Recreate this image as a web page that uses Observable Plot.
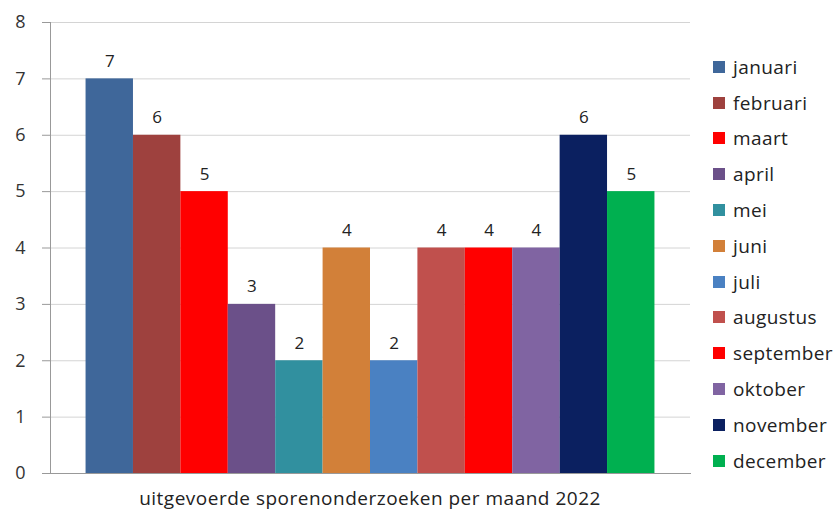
<!DOCTYPE html>
<html>
<head>
<meta charset="utf-8">
<script src="https://cdn.jsdelivr.net/npm/d3@7"></script>
<script src="https://cdn.jsdelivr.net/npm/@observablehq/plot@0.6"></script>
<style>
  html, body { margin: 0; padding: 0; background: #fff; }
  #wrap { position: relative; width: 838px; height: 514px; font-family: "Open Sans", sans-serif; }
  #chart { position: absolute; left: 0; top: 0; }
  #caption { position: absolute; left: 50px; width: 640px; top: 486px; line-height: 24px; text-align: center; font-size: 19px; letter-spacing: 0.5px; color: #222; }
  #legend { position: absolute; left: 713px; top: 49px; font-size: 19px; letter-spacing: 0.4px; color: #222; }
  #legend .item { display: flex; align-items: center; height: 35.8px; }
  #legend .sw { width: 12px; height: 12px; margin-right: 8px; }
</style>
</head>
<body>
<div id="wrap">
  <div id="chart"></div>
  <div id="legend"></div>
  <div id="caption"></div>
</div>
<script>
const months = ["januari","februari","maart","april","mei","juni","juli","augustus","september","oktober","november","december"];
const counts = [7, 6, 5, 3, 2, 4, 2, 4, 4, 4, 6, 5];
const colors = ["#3f679a","#9e413e","#ff0000","#6b5089","#31909f","#d28039","#4a81c2","#c0504d","#ff0000","#8064a2","#0b2060","#00b050"];
const yTicks = [0, 1, 2, 3, 4, 5, 6, 7, 8];
const captionText = "uitgevoerde sporenonderzoeken per maand 2022";

const data = months.map((m, i) => ({month: m, count: counts[i]}));

const plot = Plot.plot({
  width: 838,
  height: 484,
  marginLeft: 50,
  marginRight: 148,
  marginTop: 22,
  marginBottom: 11,
  style: {fontFamily: "Open Sans, sans-serif", fontSize: "17px", color: "#222", background: "#fff"},
  x: {domain: months, paddingInner: 0, paddingOuter: 0.75, round: false, axis: null},
  y: {domain: [0, 8], ticks: yTicks, axis: null, label: null},
  color: {domain: months, range: colors},
  marks: [
    Plot.gridY(yTicks, {stroke: "#d4d4d4", strokeOpacity: 1}),
    Plot.axisY({ticks: yTicks, label: null, tickSize: 8, tickPadding: 17, stroke: "#999", fontSize: 18, fill: "#333", tickFormat: d => d}),
    Plot.barY(data, {x: "month", y: "count", fill: "month"}),
    Plot.text(data, {x: "month", y: "count", text: d => String(d.count), lineAnchor: "bottom", dy: -12, fill: "#222", fontSize: 17}),
    Plot.frame({anchor: "left", stroke: "#999"}),
    Plot.frame({anchor: "bottom", stroke: "#999"})
  ]
});
document.getElementById("chart").appendChild(plot);

const color = plot.scale("color");
const legend = document.getElementById("legend");
months.forEach(m => {
  const item = document.createElement("div");
  item.className = "item";
  const sw = document.createElement("div");
  sw.className = "sw";
  sw.style.background = color.apply(m);
  const lab = document.createElement("span");
  lab.textContent = m;
  item.appendChild(sw);
  item.appendChild(lab);
  legend.appendChild(item);
});
document.getElementById("caption").textContent = captionText;
</script>
</body>
</html>
